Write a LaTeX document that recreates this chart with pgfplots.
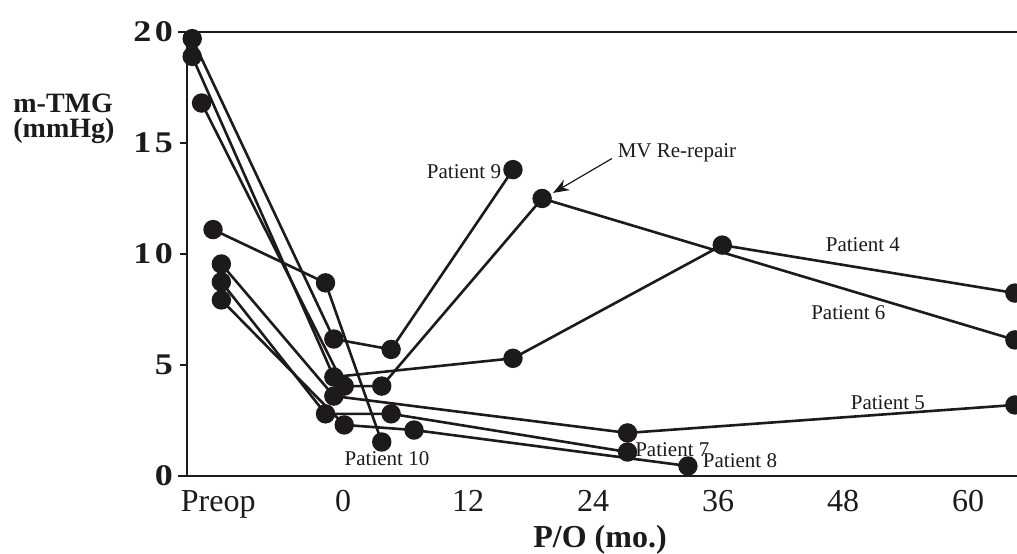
\documentclass[border=0pt]{standalone}
\usepackage{pgfplots}
\pgfplotsset{compat=1.18}
\usepackage{fontspec}
\setmainfont{Liberation Serif}
\usepackage{graphicx}
\usetikzlibrary{arrows.meta}
\definecolor{ink}{HTML}{1C1A1B}

\newcommand{\yl}[1]{\scalebox{1.2}[1]{\textbf{#1}}}

\begin{document}
\begin{tikzpicture}
\begin{axis}[
    scale only axis,
    width=415pt, height=222pt,
    xmin=-15, xmax=64.7,
    ymin=0, ymax=20,
    clip=false,
    axis lines*=left,
    axis line style={ink, line width=1pt},
    tick align=outside,
    major tick length=3.5pt,
    xtick={-12,0,12,24,36,48,60},
    xticklabels={Preop,0,12,24,36,48,60},
    xtick style={draw=none},
    ytick={0,5,10,15,20},
    yticklabels={\yl{0},\yl{5},\yl{1\hspace{1.5pt}0},\yl{1\hspace{1.5pt}5},\yl{2\hspace{1.5pt}0}},
    ytick style={ink, line width=1pt},
    xticklabel style={font=\fontsize{16}{16}\selectfont, text=ink},
    yticklabel style={font=\fontsize{15}{15}\selectfont, text=ink},
    xlabel={P/O (mo.)},
    xlabel style={at={(axis description cs:0.4976,0)}, anchor=base, yshift=-36pt,
                  font=\fontsize{16}{16}\selectfont\bfseries, text=ink},
    pt/.style={ink, line width=1.3pt, mark=*, mark size=4.2pt,
               mark options={solid, fill=ink, draw=ink}},
]
% Patient 9
\addplot[pt] coordinates {(-14.5,19.7) (-0.9,6.17) (4.6,5.7) (16.3,13.8)};
% Patient 4
\addplot[pt] coordinates {(-14.5,18.9) (-0.9,4.46) (16.3,5.3) (36.4,10.4) (64.5,8.24)};
% Patient 6
\addplot[pt] coordinates {(-13.6,16.8) (0.1,4.05) (3.7,4.05) (19.1,12.5) (64.5,6.13)};
% Patient 10
\addplot[pt] coordinates {(-12.5,11.1) (-1.7,8.7) (3.7,1.53)};
% Patient 5
\addplot[pt] coordinates {(-11.7,9.55) (-0.9,3.6) (27.3,1.94) (64.5,3.2)};
% Patient 7
\addplot[pt] coordinates {(-11.7,8.74) (-1.7,2.8) (4.6,2.8) (27.3,1.08)};
% Patient 8
\addplot[pt] coordinates {(-11.7,7.93) (0.1,2.3) (6.8,2.07) (33.1,0.45)};

\begin{scope}[every node/.style={font=\fontsize{10.5}{10.5}\selectfont, text=ink, inner sep=0pt}]
\node at (axis cs:11.6,13.7) {Patient 9};
\node at (axis cs:32.05,14.55) {MV Re-repair};
\node at (axis cs:49.9,10.4) {Patient 4};
\node at (axis cs:48.5,7.34) {Patient 6};
\node at (axis cs:52.3,3.29) {Patient 5};
\node at (axis cs:31.6,1.17) {Patient 7};
\node at (axis cs:38.1,0.68) {Patient 8};
\node at (axis cs:4.2,0.77) {Patient 10};
\end{scope}
\draw[ink, line width=0.6pt, -{Stealth[length=8pt,width=6pt]}] (axis cs:25.8,14.3) -- (axis cs:20.15,12.75);

\coordinate (SW) at (rel axis cs:0,0);
\coordinate (NW) at (rel axis cs:0,1);
\coordinate (NE) at (rel axis cs:1,1);
\end{axis}
\draw[ink, line width=1pt] ([xshift=-4.5pt]NW) -- (NE);
\draw[ink, line width=1pt] ([xshift=-4.5pt]SW) -- (SW);
\node[anchor=north west, align=left, inner sep=0pt, text=ink,
      font=\fontsize{14}{12.5}\selectfont\bfseries]
  at ([shift={(-87pt,-31pt)}]NW) {m-TMG\\(mmHg)};
\pgfresetboundingbox
\path ([shift={(-93.5pt,-39pt)}]SW) rectangle ([yshift=16pt]NE);
\end{tikzpicture}
\end{document}
